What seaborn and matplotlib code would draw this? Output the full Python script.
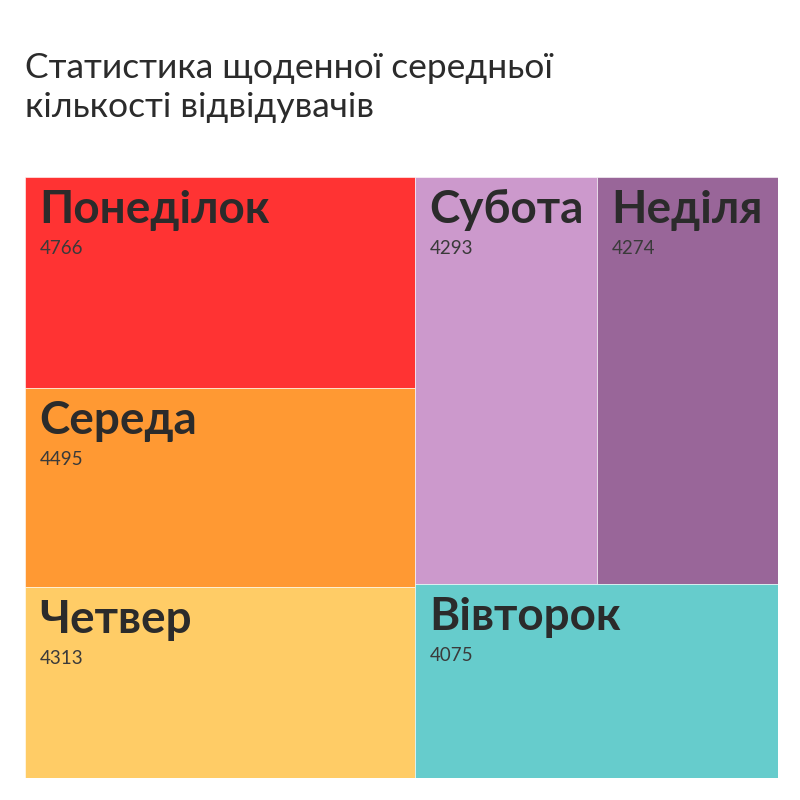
import matplotlib
matplotlib.use("Agg")
import matplotlib.pyplot as plt
import seaborn as sns

# дані: дні тижня та середня кількість відвідувачів
days_left = ["Понеділок", "Середа", "Четвер"]
values_left = [4766, 4495, 4313]
days_right_top = ["Субота", "Неділя"]
values_right_top = [4293, 4274]
days_right_bottom = ["Вівторок"]
values_right_bottom = [4075]

colors_left = ["#FF3333", "#FF9933", "#FFCC66"]
colors_right_top = ["#CC99CC", "#996699"]
colors_right_bottom = ["#66CCCC"]

title = "Статистика щоденної середньої\nкількості відвідувачів"

sns.set_theme(style="white")
plt.rcParams["font.family"] = ["Lato", "DejaVu Sans"]

fig = plt.figure(figsize=(8, 8), dpi=100)
ax = fig.add_axes([25 / 800, 22 / 800, 753 / 800, 601 / 800])
ax.set_xlim(0, 1)
ax.set_ylim(1, 0)
ax.axis("off")

total = sum(values_left) + sum(values_right_top) + sum(values_right_bottom)
left_w = sum(values_left) / total

rects = []  # (x, y, w, h, name, value, color)
# ліва колонка
y = 0.0
s = sum(values_left)
for name, v, c in zip(days_left, values_left, colors_left):
    h = v / s
    rects.append((0.0, y, left_w, h, name, v, c))
    y += h

# права колонка: верхній ряд + нижній блок
right_sum = sum(values_right_top) + sum(values_right_bottom)
top_h = sum(values_right_top) / right_sum
x = left_w
st = sum(values_right_top)
for name, v, c in zip(days_right_top, values_right_top, colors_right_top):
    w = (1 - left_w) * v / st
    rects.append((x, 0.0, w, top_h, name, v, c))
    x += w
for name, v, c in zip(days_right_bottom, values_right_bottom, colors_right_bottom):
    rects.append((left_w, top_h, 1 - left_w, 1 - top_h, name, v, c))

for (rx, ry, rw, rh, name, v, c) in rects:
    ax.bar(rx, rh, width=rw, bottom=ry, align="edge", color=c,
           edgecolor="#FFFFFF", linewidth=0.4)
    ax.annotate(name, xy=(rx, ry), xytext=(14, -12), textcoords="offset pixels",
                ha="left", va="top", fontsize=33, fontweight="bold", color="#2B2B2B")
    ax.annotate(str(v), xy=(rx, ry), xytext=(15, -63), textcoords="offset pixels",
                ha="left", va="top", fontsize=13.5, color="#3A3A3A")

fig.text(25 / 800, 1 - 52 / 800, title, ha="left", va="top", fontsize=25.5,
         color="#2B2B2B", linespacing=1.28)

fig.savefig("out.png", dpi=100, facecolor="white")
